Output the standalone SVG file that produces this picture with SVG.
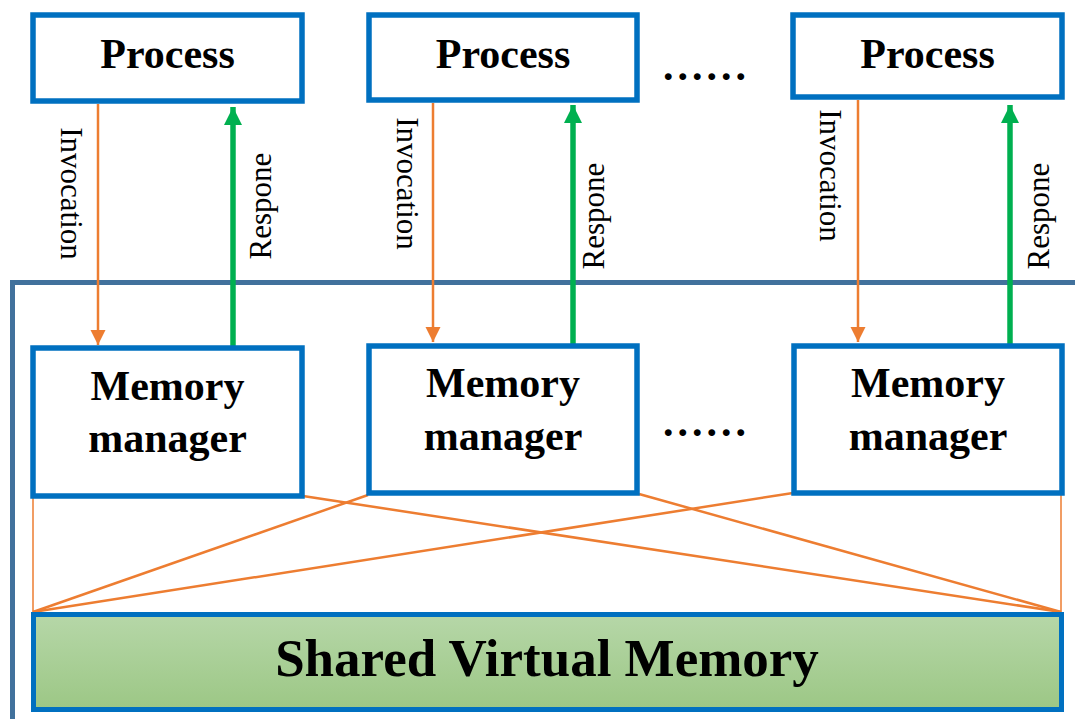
<svg xmlns="http://www.w3.org/2000/svg" width="1075" height="719" viewBox="0 0 1075 719">
  <style>
    .box { fill: #ffffff; stroke: #0070c0; stroke-width: 5.5; }
    .title { font-family: "Liberation Serif", "Times New Roman", serif; font-weight: bold; font-size: 42px; fill: #000000; text-anchor: middle; }
    .lbl { font-family: "Liberation Serif", "Times New Roman", serif; font-size: 31px; fill: #000000; text-anchor: middle; }
    .inv { stroke: #ed7d31; stroke-width: 2.5; fill: none; }
    .resp { stroke: #00b050; stroke-width: 5.5; fill: none; }
    .link { stroke: #ed7d31; stroke-width: 2.5; fill: none; }
    .edge { stroke: #ed7d31; stroke-width: 1.5; fill: none; }
    .frame { stroke: #41719c; stroke-width: 5; fill: none; }
    .dots { font-family: "Liberation Serif", "Times New Roman", serif; font-weight: bold; font-size: 42px; letter-spacing: 4px; fill: #000000; }
  </style>
  <defs>
    <linearGradient id="svmFill" x1="0" y1="0" x2="0" y2="1">
      <stop offset="0" stop-color="#b6d7a8"/>
      <stop offset="1" stop-color="#9cc785"/>
    </linearGradient>
    <marker id="headOrange" markerUnits="userSpaceOnUse" markerWidth="16" markerHeight="16" viewBox="0 0 16 16" refX="15" refY="8" orient="auto">
      <path d="M0,0.5 L15,8 L0,15.5 Z" fill="#ed7d31"/>
    </marker>
    <marker id="headGreen" markerUnits="userSpaceOnUse" markerWidth="19" markerHeight="20" viewBox="0 0 19 20" refX="18" refY="10" orient="auto">
      <path d="M0,1 L18,10 L0,19 Z" fill="#00b050"/>
    </marker>
  </defs>

  <!-- boundary of the memory layer -->
  <g id="frame">
    <path class="frame" d="M12.5,719 V282.5 H1075"/>
  </g>

  <!-- connectors -->
  <g id="connectors">
    <!-- invocations: process -> memory manager -->
    <line class="inv" x1="98" y1="104" x2="98" y2="345" marker-end="url(#headOrange)"/>
    <line class="inv" x1="433" y1="103" x2="433" y2="342" marker-end="url(#headOrange)"/>
    <line class="inv" x1="858" y1="100" x2="858" y2="342" marker-end="url(#headOrange)"/>
    <!-- responses: memory manager -> process -->
    <line class="resp" x1="233" y1="348" x2="233" y2="107" marker-end="url(#headGreen)"/>
    <line class="resp" x1="573" y1="346" x2="573" y2="105" marker-end="url(#headGreen)"/>
    <line class="resp" x1="1010" y1="346" x2="1010" y2="105" marker-end="url(#headGreen)"/>
    <!-- memory managers -> shared virtual memory -->
    <line class="edge" x1="33" y1="498" x2="33" y2="613"/>
    <line class="edge" x1="1061" y1="495" x2="1061" y2="613"/>
    <line class="link" x1="303" y1="496" x2="1061" y2="612"/>
    <line class="link" x1="368" y1="495" x2="33" y2="612"/>
    <line class="link" x1="639" y1="494" x2="1061" y2="612"/>
    <line class="link" x1="793" y1="493" x2="33" y2="612"/>
  </g>

  <!-- labels on the connectors -->
  <g id="labels">
    <text class="lbl" transform="translate(61,193.5) rotate(90)">Invocation</text>
    <text class="lbl" transform="translate(397,183.5) rotate(90)">Invocation</text>
    <text class="lbl" transform="translate(820,175.5) rotate(90)">Invocation</text>
    <text class="lbl" transform="translate(271,206) rotate(-90)">Respone</text>
    <text class="lbl" transform="translate(604,216) rotate(-90)">Respone</text>
    <text class="lbl" transform="translate(1049,216) rotate(-90)">Respone</text>
  </g>

  <!-- processes -->
  <g id="process-1">
    <rect class="box" x="33" y="15" width="269" height="86"/>
    <text class="title" x="167.5" y="68">Process</text>
  </g>
  <g id="process-2">
    <rect class="box" x="369" y="15" width="268" height="85"/>
    <text class="title" x="503" y="68">Process</text>
  </g>
  <g id="process-3">
    <rect class="box" x="793" y="15" width="269" height="82"/>
    <text class="title" x="927.5" y="68">Process</text>
  </g>
  <g id="process-more">
    <text class="dots" x="663" y="80">......</text>
  </g>

  <!-- memory managers -->
  <g id="manager-1">
    <rect class="box" x="33" y="348" width="269" height="148"/>
    <text class="title" x="167.5" y="400">Memory</text>
    <text class="title" x="167.5" y="452">manager</text>
  </g>
  <g id="manager-2">
    <rect class="box" x="369" y="346" width="268" height="147"/>
    <text class="title" x="503" y="397">Memory</text>
    <text class="title" x="503" y="450">manager</text>
  </g>
  <g id="manager-3">
    <rect class="box" x="794" y="346" width="268" height="147"/>
    <text class="title" x="928" y="397">Memory</text>
    <text class="title" x="928" y="450">manager</text>
  </g>
  <g id="manager-more">
    <text class="dots" x="663" y="436">......</text>
  </g>

  <!-- shared virtual memory -->
  <g id="shared-memory">
    <rect x="33.5" y="614.5" width="1028" height="95" fill="url(#svmFill)" stroke="#0070c0" stroke-width="5"/>
    <text class="title" x="547" y="676" style="font-size:53px">Shared Virtual Memory</text>
  </g>
</svg>
